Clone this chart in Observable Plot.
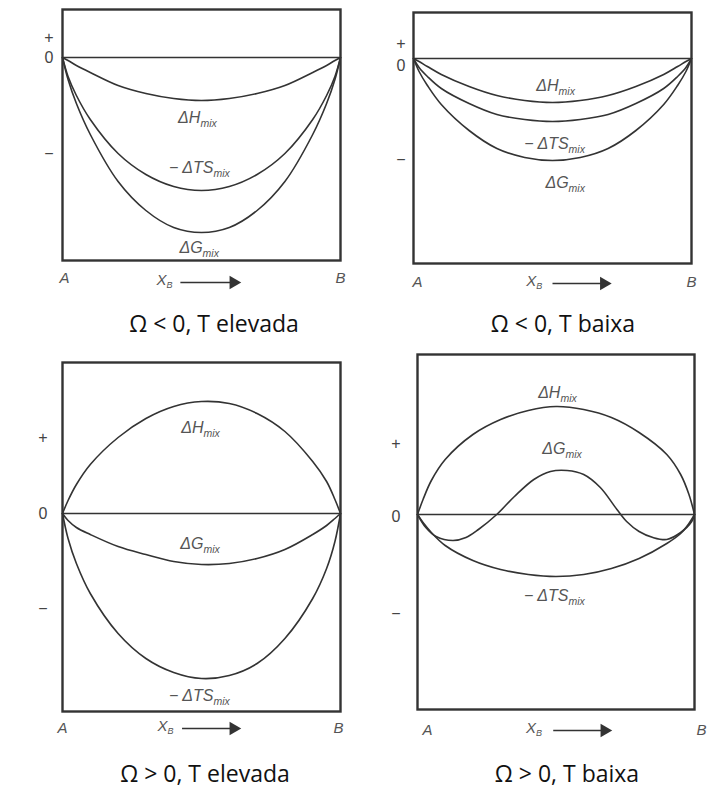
<!DOCTYPE html>
<html><head><meta charset="utf-8">
<script src="https://cdn.jsdelivr.net/npm/d3@7"></script>
<script src="https://cdn.jsdelivr.net/npm/@observablehq/plot@0.6"></script>
<style>
body{margin:0;background:#fff;}
#wrap{position:relative;width:723px;height:802px;overflow:hidden;background:#fff;}
.panel{position:absolute;}
.title{position:absolute;font-family:"Open Sans",sans-serif;font-size:23px;line-height:23px;color:#111;white-space:nowrap;transform:translateX(-50%);}
[aria-label="x-axis tick label"] text{font-style:italic;}
</style></head><body><div id="wrap"></div>
<script>
// ---------- data ----------
const xGrid = [0,0.02,0.05,0.1,0.2,0.3,0.4,0.5,0.6,0.7,0.8,0.9,0.95,0.98,1];

// Ω < 0, T elevada
const p1H  = [0,-0.03,-0.08,-0.15,-0.28,-0.36,-0.41,-0.43,-0.41,-0.36,-0.28,-0.15,-0.08,-0.03,0];
const p1TS = [0,-0.19,-0.38,-0.62,-0.96,-1.17,-1.29,-1.33,-1.29,-1.17,-0.96,-0.62,-0.38,-0.19,0];
const p1G  = [0,-0.22,-0.46,-0.77,-1.24,-1.53,-1.70,-1.75,-1.70,-1.53,-1.24,-0.77,-0.46,-0.22,0];

// Ω < 0, T baixa
const p2H  = [0,-0.03,-0.08,-0.16,-0.28,-0.37,-0.42,-0.44,-0.42,-0.37,-0.28,-0.16,-0.08,-0.03,0];
const p2TS = [0,-0.09,-0.18,-0.30,-0.45,-0.56,-0.61,-0.63,-0.61,-0.56,-0.45,-0.30,-0.18,-0.09,0];
const p2G  = [0,-0.13,-0.27,-0.46,-0.72,-0.90,-0.99,-1.02,-0.99,-0.90,-0.72,-0.46,-0.27,-0.13,0];

// Ω > 0, T elevada
const p3H  = [0,0.13,0.29,0.49,0.76,0.95,1.07,1.12,1.10,1.00,0.82,0.52,0.32,0.14,0];
const p3G  = [0,-0.07,-0.14,-0.21,-0.33,-0.41,-0.48,-0.51,-0.50,-0.45,-0.36,-0.21,-0.12,-0.05,0];
const p3TS = [0,-0.25,-0.50,-0.80,-1.20,-1.45,-1.59,-1.65,-1.62,-1.50,-1.25,-0.85,-0.55,-0.28,0];

// Ω > 0, T baixa
const p4H  = [0,0.15,0.34,0.55,0.80,0.95,1.04,1.08,1.05,0.97,0.82,0.60,0.40,0.20,0];
const p4TS = [0,-0.08,-0.18,-0.31,-0.46,-0.55,-0.60,-0.62,-0.60,-0.54,-0.44,-0.29,-0.19,-0.09,0];
const p4Gx = [0,0.03,0.067,0.128,0.175,0.22,0.286,0.35,0.42,0.48,0.54,0.6,0.66,0.72,0.755,0.8,0.85,0.9,0.95,0.99,1];
const p4G  = [0,-0.13,-0.22,-0.26,-0.23,-0.15,0,0.18,0.35,0.43,0.44,0.40,0.27,0.05,-0.07,-0.17,-0.23,-0.25,-0.18,-0.07,0];

const titles = ["Ω < 0, T elevada","Ω < 0, T baixa","Ω > 0, T elevada","Ω > 0, T baixa"];
const xTickLabels = ["A","B"];
const xTickVals = [[0.007,1],[0.014,1],[0,0.993],[0.036,1.025]];
const yTickLabels = ["+","0","−"];
const yTickVals = [[0.20,0,-0.96],[0.15,-0.07,-1.01],[0.76,0,-0.95],[0.71,-0.02,-0.99]];
// curve labels: [main text, x (join point), y]
const curveLabels = [
  [["ΔH",0.496,-0.60],["− ΔTS",0.543,-1.10],["ΔG",0.504,-1.90]],
  [["ΔH",0.522,-0.27],["− ΔTS",0.558,-0.85],["ΔG",0.558,-1.24]],
  [["ΔH",0.507,0.86],["ΔG",0.507,-0.30],["− ΔTS",0.543,-1.82]],
  [["ΔH",0.516,1.22],["ΔG",0.534,0.66],["− ΔTS",0.545,-0.81]]
];
// X_B label and arrow: [X position, arrow start, arrow end]
const xbAnnot = [[0.356,0.424,0.615],[0.424,0.50,0.685],[0.36,0.43,0.615],[0.41,0.49,0.675]];

const curves = [
  [[xGrid,p1H],[xGrid,p1TS],[xGrid,p1G]],
  [[xGrid,p2H],[xGrid,p2TS],[xGrid,p2G]],
  [[xGrid,p3H],[xGrid,p3G],[xGrid,p3TS]],
  [[xGrid,p4H],[p4Gx,p4G],[xGrid,p4TS]]
];

// ---------- layout ----------
const layout = [
  {left:0,top:0,width:361,height:300,mL:62,mR:21,mT:9,mB:40,yDomain:[-2.03,0.48],yPad:9,xPad:12,xbDy:22,tx:214,ty:312},
  {left:361,top:0,width:362,height:300,mL:52,mR:32,mT:12,mB:37,yDomain:[-2.05,0.46],yPad:8,xPad:13,xbDy:20,tx:563,ty:312},
  {left:0,top:340,width:361,height:410,mL:62,mR:21,mT:22,mB:39,yDomain:[-1.98,1.51],yPad:15,xPad:11,xbDy:17,tx:205,ty:762},
  {left:361,top:340,width:362,height:410,mL:56,mR:29,mT:14,mB:41,yDomain:[-1.95,1.60],yPad:17,xPad:15,xbDy:21,tx:567,ty:762}
];

const wrap = document.getElementById("wrap");
const ink = "#333", grey = "#555", font = "Liberation Sans, Arial, sans-serif";

curves.forEach((cs, i) => {
  const L = layout[i];
  const rows = cs.flatMap(([xs, ys], k) => xs.map((x, j) => ({x, y: ys[j], k})));
  const yb = L.yDomain[0];
  const xb = [xbAnnot[i]];
  const labs = curveLabels[i];
  const chart = Plot.plot({
    width: L.width, height: L.height,
    marginLeft: L.mL, marginRight: L.mR, marginTop: L.mT, marginBottom: L.mB,
    x: {domain: [0, 1]},
    y: {domain: L.yDomain},
    style: {fontFamily: font, background: "transparent", overflow: "visible"},
    marks: [
      Plot.ruleY([0], {stroke: ink, strokeWidth: 1.6}),
      Plot.line(rows, {x: "x", y: "y", z: "k", curve: "catmull-rom", stroke: ink, strokeWidth: 1.6}),
      Plot.frame({stroke: ink, strokeWidth: 2.4}),
      Plot.text(labs, {x: d => d[1], y: d => d[2], text: d => d[0], textAnchor: "end", fontSize: 16, fill: grey, fontStyle: "italic"}),
      Plot.text(labs, {x: d => d[1], y: d => d[2], text: () => "mix", textAnchor: "start", fontSize: 10.5, dy: 6, fill: grey, fontStyle: "italic"}),
      Plot.text(xb, {x: d => d[0], y: () => yb, text: () => "X", dy: L.xbDy - 2, fontSize: 15, fill: grey, fontStyle: "italic"}),
      Plot.text(xb, {x: d => d[0], y: () => yb, text: () => "B", dx: 5, dy: L.xbDy + 3, textAnchor: "start", fontSize: 9, fill: grey, fontStyle: "italic"}),
      Plot.link(xb, {x1: d => d[1], x2: d => d[2], y1: () => yb, y2: () => yb, dy: L.xbDy, stroke: ink, strokeWidth: 1.6}),
      Plot.dot(xb, {x: d => d[2], y: () => yb, dy: L.xbDy, symbol: "triangle", rotate: 90, r: 5, fill: ink, stroke: "none"}),
      Plot.axisY({ticks: yTickVals[i], tickFormat: (d, j) => yTickLabels[j], tickSize: 0, tickPadding: L.yPad, fontSize: 16, fill: "#444", label: null}),
      Plot.axisX({ticks: xTickVals[i], tickFormat: (d, j) => xTickLabels[j], tickSize: 0, tickPadding: L.xPad, fontSize: 15, fill: grey, label: null})
    ]
  });
  chart.classList.add("panel");
  chart.style.left = L.left + "px";
  chart.style.top = L.top + "px";
  wrap.appendChild(chart);
  const t = document.createElement("div");
  t.className = "title";
  t.textContent = titles[i];
  t.style.left = L.tx + "px";
  t.style.top = L.ty + "px";
  wrap.appendChild(t);
});
</script></body></html>
